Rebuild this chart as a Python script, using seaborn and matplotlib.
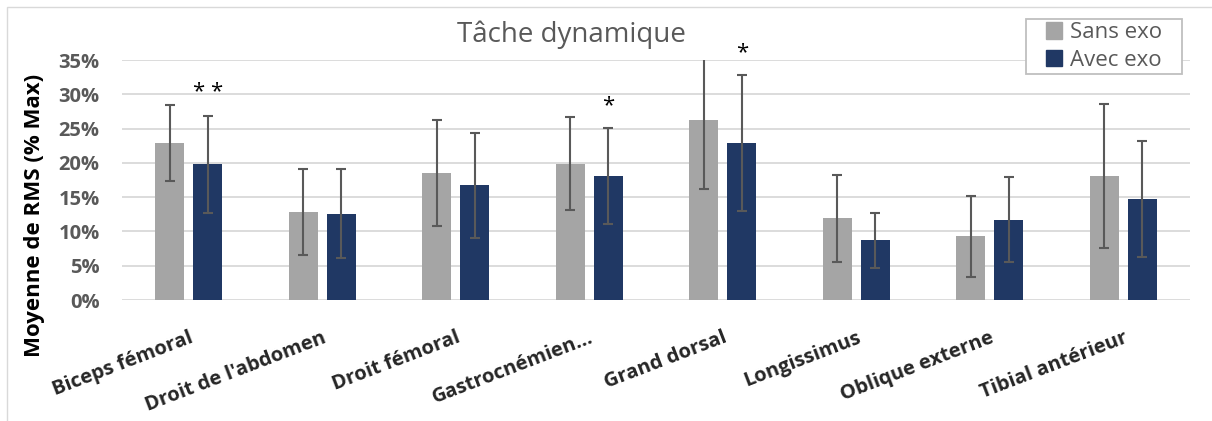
import pandas as pd
import matplotlib.pyplot as plt
import matplotlib.patches as mpatches
from matplotlib.ticker import FuncFormatter
import seaborn as sns

muscles = ["Biceps fémoral", "Droit de l'abdomen", "Droit fémoral", "Gastrocnémien…",
           "Grand dorsal", "Longissimus", "Oblique externe", "Tibial antérieur"]
conditions = ["Sans exo", "Avec exo"]
sans_exo = [22.9, 12.8, 18.5, 19.9, 26.3, 11.9, 9.3, 18.1]
avec_exo = [19.8, 12.6, 16.7, 18.1, 22.9, 8.7, 11.7, 14.7]
sans_sd = [5.5, 6.3, 7.7, 6.8, 10.1, 6.4, 5.9, 10.5]
avec_sd = [7.1, 6.5, 7.7, 7.0, 9.9, 4.0, 6.2, 8.5]
avec_signif = ["* *", "", "", "*", "*", "", "", ""]

grey = "#A5A5A5"
navy = "#203864"
text_grey = "#595959"


def plot_data():
    df = pd.DataFrame({
        "muscle": muscles * 2,
        "condition": [conditions[0]] * len(muscles) + [conditions[1]] * len(muscles),
        "value": sans_exo + avec_exo,
    })

    sns.set_style("white")
    plt.rcParams['font.family'] = ['Open Sans', 'DejaVu Sans']

    fig = plt.figure(figsize=(12.12, 4.21), dpi=100)
    ax = fig.add_axes([122 / 1212, 1 - 300 / 421, 1068 / 1212, 240 / 421])

    sns.barplot(data=df, x="muscle", y="value", hue="condition", hue_order=conditions,
                palette=[grey, navy], width=0.57, gap=0.23, errorbar=None,
                saturation=1, linewidth=0, ax=ax, zorder=3, legend=False)

    # error bars + significance stars on top of the bars
    sds = [sans_sd, avec_sd]
    bar_conts = list(ax.containers)
    for k, cont in enumerate(bar_conts):
        for i, bar in enumerate(cont):
            xc = bar.get_x() + bar.get_width() / 2
            h = bar.get_height()
            ax.errorbar(xc, h, yerr=sds[k][i], fmt="none", ecolor=text_grey,
                        elinewidth=1.5, capsize=3.3, capthick=1.5, zorder=4)
            if k == 1 and avec_signif[i]:
                ax.text(xc, h + sds[k][i] + 3.3, avec_signif[i], ha="center", va="center",
                        fontsize=16, color="black", clip_on=False)

    ax.set_ylim(0, 35)
    ax.set_xlim(-0.5, len(muscles) - 0.5)
    ax.set_yticks(range(0, 36, 5))
    ax.yaxis.set_major_formatter(FuncFormatter(lambda v, p: f"{v:.0f}%"))
    ax.grid(axis="y", color="#D9D9D9", linewidth=1.3, zorder=0)
    ax.set_axisbelow(True)
    sns.despine(ax=ax, left=True, bottom=True)
    ax.set_xlabel("")
    ax.set_ylabel("")
    ax.tick_params(axis="y", length=0, pad=16, labelsize=14.5, labelcolor=text_grey)
    ax.tick_params(axis="x", length=0, pad=20, labelsize=14.5)
    for lbl in ax.get_yticklabels():
        lbl.set_fontweight("bold")
    for lbl in ax.get_xticklabels():
        lbl.set_fontweight("bold")
        lbl.set_rotation(21)
        lbl.set_ha("right")
        lbl.set_rotation_mode("anchor")

    fig.text(35 / 1212, 1 - 215 / 421, "Moyenne de RMS (% Max)", rotation=90,
             ha="center", va="center", fontsize=16, fontweight="bold", color="black")
    fig.text(571 / 1212, 1 - 35 / 421, "Tâche dynamique", ha="center", va="center",
             fontsize=20, color=text_grey)

    # legend: white box with grey frame, entries centred inside
    x0, y0, x1, y1 = 1026 / 1212, 1 - 74 / 421, 1182 / 1212, 1 - 19 / 421
    fig.patches.append(mpatches.Rectangle((x0, y0), x1 - x0, y1 - y0, transform=fig.transFigure,
                                          facecolor="white", edgecolor="#BFBFBF",
                                          linewidth=1.3, zorder=5))
    handles = [mpatches.Patch(color=grey), mpatches.Patch(color=navy)]
    leg = fig.legend(handles, conditions, loc="center",
                     bbox_to_anchor=((x0 + x1) / 2, (y0 + y1) / 2),
                     fontsize=16, frameon=False, handlelength=0.75,
                     handleheight=0.75, handletextpad=0.35, borderpad=0, labelspacing=0.3)
    leg.set_zorder(6)
    for t in leg.get_texts():
        t.set_color(text_grey)

    # light chart border as in the spreadsheet export
    fig.patches.append(mpatches.Rectangle((7 / 1212, -0.1), 1.2, 1 - 7 / 421 + 0.1,
                                          transform=fig.transFigure, fill=False,
                                          edgecolor="#D9D9D9", linewidth=1))

    fig.savefig("out.png", dpi=100)


if __name__ == "__main__":
    plot_data()
